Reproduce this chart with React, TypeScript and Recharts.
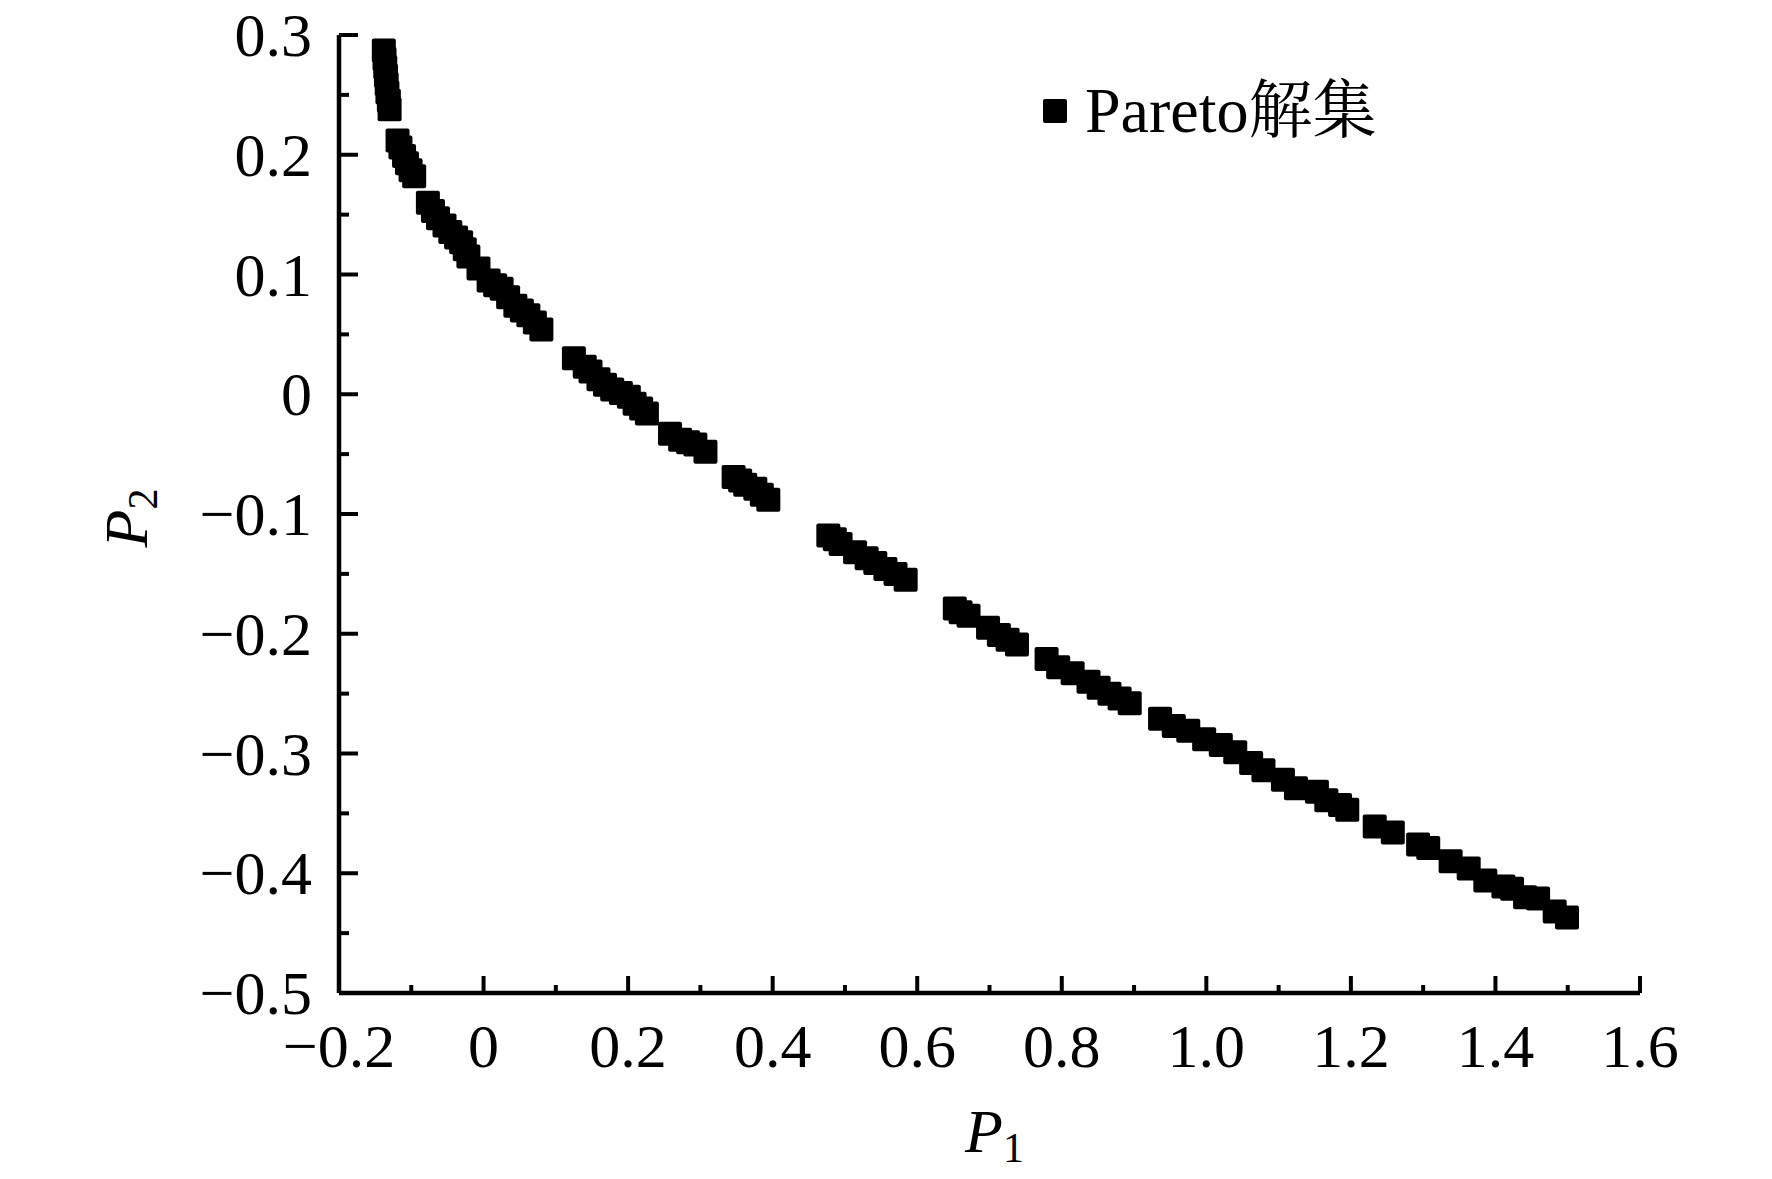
import React from 'react';
import { ScatterChart, Scatter, XAxis, YAxis, Legend } from 'recharts';

// Pareto front points (P1 -> x, P2 -> y)
const p1Values = [
  -0.138, -0.137, -0.136, -0.135, -0.134, -0.133, -0.131, -0.13,
  -0.119, -0.115, -0.11, -0.106, -0.101, -0.096,
  -0.077, -0.07, -0.063, -0.054, -0.046, -0.038, -0.031, -0.026, -0.021, -0.007,
  0.007, 0.016, 0.025, 0.034, 0.044, 0.053, 0.062, 0.071, 0.08,
  0.125, 0.14, 0.148, 0.159, 0.168, 0.178, 0.19, 0.201, 0.209, 0.218, 0.226,
  0.258, 0.272, 0.283, 0.293, 0.307,
  0.346, 0.355, 0.362, 0.376, 0.385, 0.394,
  0.477, 0.486, 0.494, 0.514, 0.53, 0.542, 0.556, 0.57, 0.584,
  0.652, 0.66, 0.671, 0.698, 0.713, 0.725, 0.738,
  0.779, 0.795, 0.815, 0.837, 0.851, 0.866, 0.88, 0.894,
  0.936, 0.955, 0.975, 0.997, 1.02, 1.04, 1.062, 1.079, 1.106, 1.124, 1.153, 1.166, 1.185, 1.195,
  1.233, 1.258, 1.293, 1.307, 1.338, 1.363, 1.386, 1.411, 1.423, 1.441, 1.459, 1.482, 1.499,
];
const p2Values = [
  0.287, 0.28, 0.273, 0.266, 0.259, 0.252, 0.245, 0.238,
  0.212, 0.206, 0.199, 0.193, 0.187, 0.182,
  0.16, 0.153, 0.147, 0.141, 0.1355, 0.131, 0.127, 0.121, 0.115, 0.105,
  0.095, 0.091, 0.088, 0.081, 0.074, 0.07, 0.066, 0.06, 0.054,
  0.03, 0.023, 0.019, 0.0125, 0.008, 0.004, 0.001, -0.002, -0.008, -0.012, -0.016,
  -0.033, -0.038, -0.04, -0.042, -0.048,
  -0.069, -0.072, -0.0755, -0.079, -0.084, -0.088,
  -0.118, -0.121, -0.125, -0.132, -0.137, -0.141, -0.146, -0.15, -0.155,
  -0.179, -0.182, -0.185, -0.195, -0.201, -0.205, -0.209,
  -0.221, -0.228, -0.233, -0.24, -0.245, -0.25, -0.254, -0.258,
  -0.271, -0.277, -0.281, -0.288, -0.293, -0.299, -0.308, -0.314, -0.322, -0.329, -0.332, -0.339, -0.343, -0.347,
  -0.361, -0.366, -0.376, -0.379, -0.39, -0.396, -0.406, -0.411, -0.413, -0.42, -0.421, -0.432, -0.437,
];

const xTicks = [-0.2, -0.1, 0, 0.1, 0.2, 0.3, 0.4, 0.5, 0.6, 0.7, 0.8, 0.9, 1.0, 1.1, 1.2, 1.3, 1.4, 1.5, 1.6];
const yTicks = [
  -0.5, -0.45, -0.4, -0.35, -0.3, -0.25, -0.2, -0.15, -0.1, -0.05,
  0, 0.05, 0.1, 0.15, 0.2, 0.25, 0.3,
];
const xMajor = [-0.2, 0, 0.2, 0.4, 0.6, 0.8, 1.0, 1.2, 1.4, 1.6];
const yMajor = [-0.5, -0.4, -0.3, -0.2, -0.1, 0, 0.1, 0.2, 0.3];

const seriesName = 'Pareto解集';

const data = p1Values.map((x, i) => ({ x, y: p2Values[i] }));

const FONT = "'Liberation Serif', 'Times New Roman', 'DejaVu Serif', 'Noto Serif CJK SC', 'Noto Sans CJK SC', serif";

const isIn = (list: number[], v: number) => list.some((m) => Math.abs(m - v) < 1e-6);
const fmt = (v: number) => (Math.abs(v) < 1e-9 ? '0' : v.toFixed(1).replace('-', '\u2212'));

const XTick = (props: any) => {
  const { x, y, payload } = props;
  const major = isIn(xMajor, payload.value);
  return (
    <g>
      {payload.value > -0.15 && (
        <line x1={x} x2={x} y1={y} y2={y - (major ? 17 : 8)} stroke="#000" strokeWidth={4} />
      )}
      {major && (
        <text x={x} y={y + 74} textAnchor="middle" fontFamily={FONT} fontSize={62} fill="#000">
          {fmt(payload.value)}
        </text>
      )}
    </g>
  );
};

const YTick = (props: any) => {
  const { x, y, payload } = props;
  const major = isIn(yMajor, payload.value);
  return (
    <g>
      {payload.value > -0.45 + 0.001 || !major ? (
        <line x1={x} x2={x + (major ? 19 : 10)} y1={y} y2={y} stroke="#000" strokeWidth={4} />
      ) : null}
      {major && (
        <text x={x - 27} y={y + 21} textAnchor="end" fontFamily={FONT} fontSize={62} fill="#000">
          {fmt(payload.value)}
        </text>
      )}
    </g>
  );
};

const SquareDot = (props: any) => {
  const { cx, cy } = props;
  if (cx == null || cy == null) return null;
  return <rect x={cx - 12} y={cy - 12} width={24} height={24} rx={2} fill="#000" />;
};

const renderLegend = () => (
  <div style={{ display: 'flex', alignItems: 'center', fontFamily: FONT, fontSize: 64, lineHeight: 1, color: '#000' }}>
    <span style={{ display: 'inline-block', width: 24, height: 24, background: '#000', borderRadius: 2, marginRight: 18 }} />
    <span>{seriesName}</span>
  </div>
);

export default function App() {
  return (
    <div style={{ position: 'absolute', left: 0, top: 0, background: '#fff' }}>
      <ScatterChart width={1772} height={1179} margin={{ top: 35, right: 132, bottom: 86, left: 0 }}>
        <XAxis
          type="number"
          dataKey="x"
          domain={[-0.2, 1.6]}
          ticks={xTicks}
          interval={0}
          tickSize={0}
          tickMargin={0}
          tickLine={false}
          axisLine={{ stroke: '#000', strokeWidth: 4.5 }}
          tick={<XTick />}
          height={100}
          label={{
            content: (p: any) => {
              const vb = p.viewBox;
              return (
                <text x={vb.x + vb.width / 2 + 5} y={1152} textAnchor="middle" fontFamily={FONT} fill="#000">
                  <tspan fontSize={62} fontStyle="italic">P</tspan>
                  <tspan fontSize={42} dy={10}>1</tspan>
                </text>
              );
            },
          }}
        />
        <YAxis
          type="number"
          dataKey="y"
          domain={[-0.5, 0.3]}
          ticks={yTicks}
          interval={0}
          tickSize={0}
          tickMargin={0}
          tickLine={false}
          axisLine={{ stroke: '#000', strokeWidth: 4.5 }}
          tick={<YTick />}
          width={339}
          label={{
            content: () => (
              <text x={147} y={518} transform="rotate(-90, 147, 518)" textAnchor="middle" fontFamily={FONT} fill="#000">
                <tspan fontSize={62} fontStyle="italic">P</tspan>
                <tspan fontSize={42} dy={10}>2</tspan>
              </text>
            ),
          }}
        />
        <Legend
          layout="horizontal"
          verticalAlign="middle"
          align="center"
          content={renderLegend}
          wrapperStyle={{ position: 'absolute', top: 79, left: 1043, width: 500, height: 80 }}
        />
        <Scatter name={seriesName} data={data} fill="#000" shape={<SquareDot />} isAnimationActive={false} />
      </ScatterChart>
    </div>
  );
}
